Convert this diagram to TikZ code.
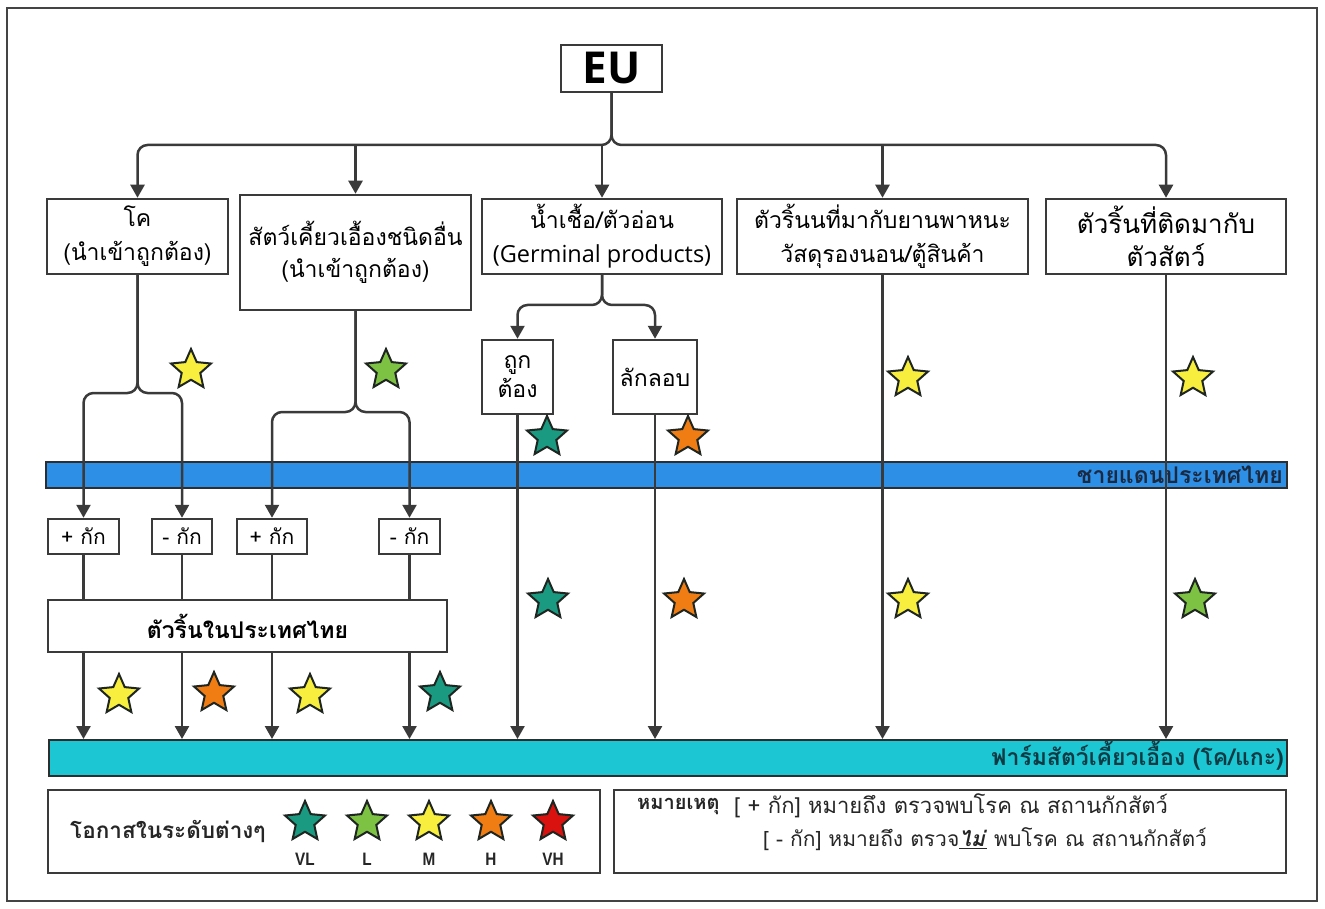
\documentclass[tikz,border=0pt]{standalone}
\usepackage{fontspec}
\setmainfont{Open Sans}
\newfontfamily\thai[Script=Thai]{Loma}
\newfontfamily\arialn[FakeStretch=0.85]{Liberation Sans}
\usetikzlibrary{arrows.meta,shapes.geometric,calc}
\definecolor{linec}{HTML}{3A3A3A}
\definecolor{framec}{HTML}{444444}
\definecolor{stard}{HTML}{1F2621}
\definecolor{vlc}{HTML}{1A9A80}
\definecolor{lc}{HTML}{7DC242}
\definecolor{mc}{HTML}{F7EE3E}
\definecolor{hc}{HTML}{F07D14}
\definecolor{vhc}{HTML}{D9120F}
\definecolor{bluec}{HTML}{2E8FE6}
\definecolor{cyanc}{HTML}{1CC6D2}
\definecolor{navyt}{HTML}{1B2A41}
\definecolor{tealt}{HTML}{0E3A44}
\tikzset{
  box/.style={draw=linec, line width=2.5pt, fill=white, rectangle, inner sep=0pt, align=center,
    font=\thai\fontsize{23}{34}\selectfont},
  arr/.style={draw=linec, line width=2.5pt, -{Triangle[width=14pt,length=13pt]}},
  ln/.style={draw=linec, line width=2.5pt},
  band/.style={draw=linec!80!black, line width=2pt, rectangle, inner sep=0pt},
  rstar/.style={star, star points=5, star point ratio=2.15, minimum size=42pt, inner sep=0pt,
    draw=stard, line width=2pt, fill=#1},
  lvl/.style={font=\arialn\bfseries\fontsize{18}{20}\selectfont, text=black!85},
  notet/.style={anchor=west, inner sep=0pt, font=\thai\fontsize{22}{24}\selectfont, text=black!85},
  qbox/.style={box, minimum height=35pt, font=\thai\fontsize{21}{24}\selectfont},
}
\begin{document}
\begin{tikzpicture}[x=1pt,y=-1pt]
\useasboundingbox (0,0) rectangle (1325,909);
\draw[line width=2.5pt, draw=framec] (7,8) rectangle (1317,901);

% bands
\node[band, fill=bluec, minimum width=1241pt, minimum height=26pt] (border) at (666.5,475) {};
\node[anchor=east, inner sep=0pt, text=navyt, font=\thai\bfseries\fontsize{23}{24}\selectfont] (borderlbl) at (1283,475) {ชายแดนประเทศไทย};
\node[band, fill=cyanc, minimum width=1238pt, minimum height=36pt] (farm) at (668,758) {};
\node[anchor=east, inner sep=0pt, text=tealt, font=\thai\bfseries\fontsize{23}{24}\selectfont] (farmlbl) at (1284,756) {ฟาร์มสัตว์เคี้ยวเอื้อง (โค/แกะ)};

% main boxes
\node[box, minimum width=101pt, minimum height=47pt, font=\bfseries\fontsize{44}{44}\selectfont] (eu) at (611.5,68.5) {EU};
\node[box, minimum width=181pt, minimum height=75pt] (b1) at (137.5,236.5) {โค\\(นำเข้าถูกต้อง)};
\node[box, minimum width=231pt, minimum height=115pt, font=\thai\fontsize{23}{32}\selectfont] (b2) at (355.5,252.5) {สัตว์เคี้ยวเอื้องชนิดอื่น\\(นำเข้าถูกต้อง)};
\node[box, minimum width=240pt, minimum height=75pt] (b3) at (602,236.5) {น้ำเชื้อ/ตัวอ่อน\\{\rmfamily\fontsize{23.5}{34}\selectfont (Germinal products)}};
\node[box, minimum width=291pt, minimum height=75pt] (b4) at (882.5,236.5) {ตัวริ้นนที่มากับยานพาหนะ\\วัสดุรองนอน/ตู้สินค้า};
\node[box, minimum width=240pt, minimum height=75pt, font=\thai\fontsize{26}{33}\selectfont] (b5) at (1166,236.5) {ตัวริ้นที่ติดมากับ\\ตัวสัตว์};

\node[box, minimum width=71pt, minimum height=74pt, font=\thai\fontsize{23}{29}\selectfont] (s1) at (517.5,377) {ถูก\\ต้อง};
\node[box, minimum width=84pt, minimum height=74pt] (s2) at (655,377) {ลักลอบ};

\node[qbox, minimum width=71pt] (q1) at (83.5,536.5) {+ กัก};
\node[qbox, minimum width=60pt] (q2) at (182,536.5) {- กัก};
\node[qbox, minimum width=70pt] (q3) at (272,536.5) {+ กัก};
\node[qbox, minimum width=61pt] (q4) at (409.5,536.5) {- กัก};

\node[box, minimum width=399pt, minimum height=52pt, font=\thai\bfseries\fontsize{23}{24}\selectfont] (tb) at (247.5,626) {ตัวริ้นในประเทศไทย};

% connectors
\coordinate (hub) at (611.5,145);
\coordinate (j1) at (0,393);
\coordinate (j2) at (0,412);
\coordinate (j3) at (0,305);
\draw[arr, rounded corners=10pt] (eu.south) |- (b1.north |- hub) -- (b1.north);
\draw[arr, rounded corners=10pt] (eu.south) |- (b5.north |- hub) -- (b5.north);
\draw[arr] (b2.north |- hub) -- (b2.north);
\draw[arr] (b3.north |- hub) -- (b3.north);
\draw[arr] (b4.north |- hub) -- (b4.north);

\draw[arr, rounded corners=10pt] (b1.south) |- (q1.north |- j1) -- (q1.north);
\draw[arr, rounded corners=10pt] (b1.south) |- (q2.north |- j1) -- (q2.north);
\draw[arr, rounded corners=10pt] (b2.south) |- (q3.north |- j2) -- (q3.north);
\draw[arr, rounded corners=10pt] (b2.south) |- (q4.north |- j2) -- (q4.north);
\draw[arr, rounded corners=10pt] (b3.south) |- (s1.north |- j3) -- (s1.north);
\draw[arr, rounded corners=10pt] (b3.south) |- (s2.north |- j3) -- (s2.north);

\foreach \q in {q1,q2,q3,q4}{
  \draw[ln] (\q.south) -- (\q.south |- tb.north);
  \draw[arr] (\q.south |- tb.south) -- (\q.south |- farm.north);
}
\draw[arr] (s1.south) -- (s1.south |- farm.north);
\draw[arr] (s2.south) -- (s2.south |- farm.north);
\draw[arr] (b4.south) -- (b4.south |- farm.north);
\draw[arr] (b5.south) -- (b5.south |- farm.north);

% stars
\node[rstar=mc] (st1) at (191,370) {};
\node[rstar=lc] (st2) at (386,370) {};
\node[rstar=vlc] (st3) at (547,437) {};
\node[rstar=hc] (st4) at (688,437) {};
\node[rstar=mc] (st5) at (908,378) {};
\node[rstar=mc] (st6) at (1193,378) {};
\node[rstar=vlc] (st7) at (548,600) {};
\node[rstar=hc] (st8) at (684,600) {};
\node[rstar=mc] (st9) at (908,600) {};
\node[rstar=lc] (st10) at (1195,600) {};
\node[rstar=mc] (st11) at (119,695) {};
\node[rstar=hc] (st12) at (214,693) {};
\node[rstar=mc] (st13) at (310,695) {};
\node[rstar=vlc] (st14) at (440,693) {};

% legend
\node[box, minimum width=552pt, minimum height=83pt] (leg1) at (324,831.5) {};
\node[anchor=west, inner sep=0pt, text=black!85, font=\thai\bfseries\fontsize{22.5}{24}\selectfont] (legt) at (70,832) {โอกาสในระดับต่างๆ};
\node[rstar=vlc] (lg1) at (305,822) {};
\node[rstar=lc] (lg2) at (367,822) {};
\node[rstar=mc] (lg3) at (429,822) {};
\node[rstar=hc] (lg4) at (491,822) {};
\node[rstar=vhc] (lg5) at (553,822) {};
\node[lvl] (lv1) at (305,859) {VL};
\node[lvl] (lv2) at (367,859) {L};
\node[lvl] (lv3) at (429,859) {M};
\node[lvl] (lv4) at (491,859) {H};
\node[lvl] (lv5) at (553,859) {VH};

\node[box, minimum width=672pt, minimum height=83pt] (leg2) at (950,831.5) {};
\node[notet, font=\thai\bfseries\fontsize{20}{22}\selectfont] (note) at (637,806) {หมายเหตุ};
\node[notet] (n1) at (734,806) {[ + กัก] หมายถึง ตรวจพบโรค ณ สถานกักสัตว์};
\node[notet, font=\thai\fontsize{21}{24}\selectfont] (n2) at (763,839) {[ - กัก] หมายถึง ตรวจ\underline{\textbf{\textit{ไม่}}} พบโรค ณ สถานกักสัตว์};
\end{tikzpicture}
\end{document}
